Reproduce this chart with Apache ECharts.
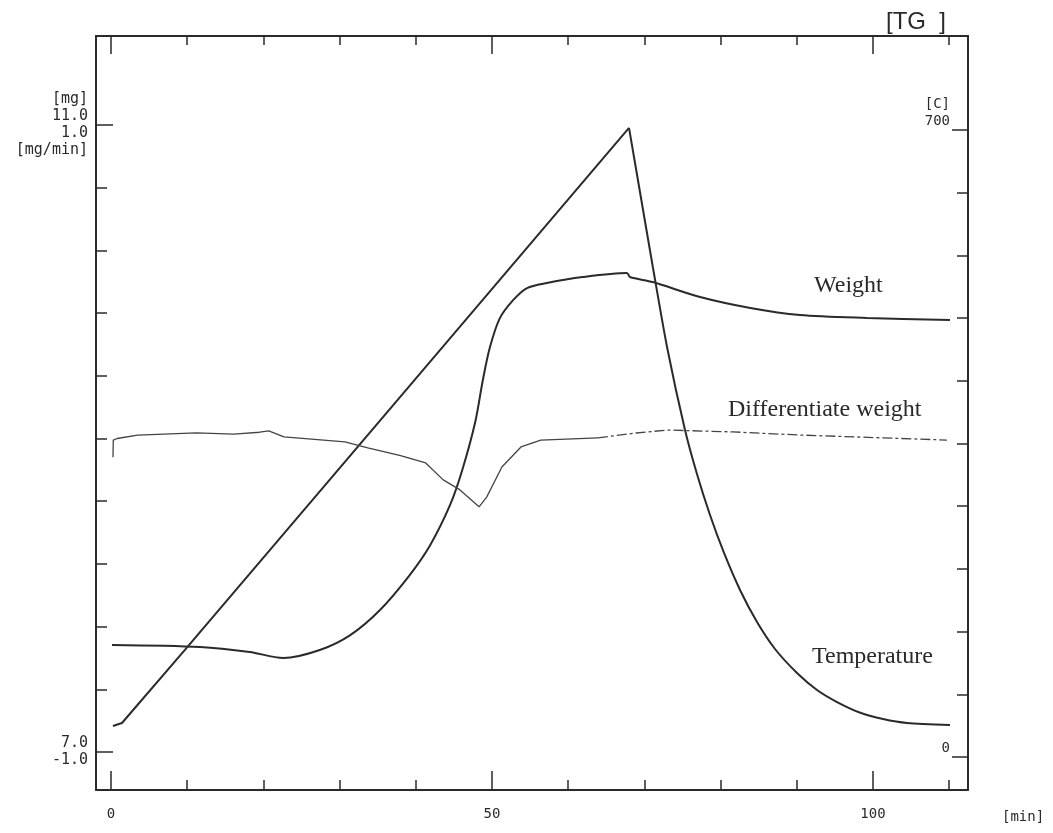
<!DOCTYPE html>
<html>
<head>
<meta charset="utf-8">
<script src="https://cdn.jsdelivr.net/npm/echarts@6/dist/echarts.min.js"></script>
<style>
  html, body { margin: 0; padding: 0; background: #ffffff; }
  #chart { width: 1053px; height: 833px; }
</style>
</head>
<body>
<div id="chart"></div>
<script>
// ---------- data ----------
// time [min]
const xTickValues = [0, 10, 20, 30, 40, 50, 60, 70, 80, 90, 100, 110];
const xMajorTicks = [0, 50, 100];
const xTickLabels = [0, 50, 100];
// temperature axis ticks [C]
const tempTickValues = [0, 70, 140, 210, 280, 350, 420, 490, 560, 630, 700];
const tempEndTicks = [0, 700];
const leftTopLabel = ['[mg]', '11.0', '1.0', '[mg/min]'];
const leftBottomLabel = ['7.0', '-1.0'];
const rightTopLabel = ['[C]', '700'];
const rightBottomLabel = ['0'];

// Temperature [C] vs time [min]
const temperatureHeating = [
  [0.26, 29.0], [1.44, 32.4], [9.7, 114], [37.9, 396], [67.98, 696.7]
];
const temperatureCooling = [
  [67.98, 696.7], [69.42, 625.2], [71.13, 540.4], [72.97, 452.2], [75.33, 359.5],
  [76.90, 310.4], [78.61, 264.6], [80.45, 222.2], [82.55, 180.9], [84.78, 145.1],
  [87.14, 115.0], [90.03, 88.2], [92.65, 69.2], [95.28, 55.8], [98.43, 43.5],
  [101.31, 36.8], [104.46, 32.4], [110.1, 30.1]
];
// Weight [mg] vs time [min]
const weight = [
  [0.13, 7.683], [11.7, 7.670], [18.2, 7.638], [22.6, 7.600], [27.4, 7.651],
  [31.4, 7.746], [35.3, 7.906], [39.2, 8.129], [41.9, 8.321], [44.5, 8.576],
  [46.1, 8.799], [47.8, 9.105], [48.8, 9.373], [49.7, 9.577], [51.0, 9.765],
  [52.8, 9.884], [54.6, 9.960], [57.2, 9.992], [61.9, 10.030], [67.7, 10.056],
  [68.1, 10.030], [71.1, 9.998], [77.3, 9.903], [83.9, 9.833], [90.4, 9.788],
  [99.2, 9.769], [110.1, 9.756]
];
// Differentiate weight [mg/min] vs time [min]
const dWeightSolid = [
  [0.26, -0.06], [0.3, -0.005], [0.8, 0.0], [3.5, 0.011], [11.2, 0.018],
  [16.1, 0.014], [19.5, 0.020], [20.7, 0.024], [22.7, 0.005], [30.7, -0.011],
  [33.7, -0.030], [38.0, -0.055], [41.3, -0.078], [43.6, -0.132], [45.8, -0.164],
  [48.3, -0.218], [49.3, -0.187], [51.3, -0.091], [53.8, -0.027], [56.4, -0.005],
  [63.9, 0.002]
];
const dWeightDashed = [
  [63.9, 0.002], [68.9, 0.0175], [73.0, 0.027], [81.6, 0.021], [90.4, 0.011],
  [109.7, -0.005]
];

// ---------- layout ----------
const INK = '#2a2a2a';
const MONO = '"DejaVu Sans Mono", "Liberation Mono", monospace';
const SERIF = '"Liberation Serif", "DejaVu Serif", serif';
const frame = { left: 96, right: 968, top: 36, bottom: 790 };
const x0px = 111, x100px = 873;               // pixel of t=0 and t=100
const pxPerMin = (x100px - x0px) / 100;
const xMin = (frame.left - x0px) / pxPerMin;
const xMax = (frame.right - x0px) / pxPerMin;
const y700px = 125, y0px = 752;               // pixel of 700 C and 0 C
const pxPerDeg = (y0px - y700px) / 700;
const tMin = -(frame.bottom - y0px) / pxPerDeg;
const tMax = 700 + (y700px - frame.top) / pxPerDeg;
const wMin = 7 + tMin * 4 / 700, wMax = 7 + tMax * 4 / 700;
const dMin = -1 + tMin * 2 / 700, dMax = -1 + tMax * 2 / 700;
const rightShift = 5;  // scanned sheet is slightly tilted

const gridMain = { left: frame.left, right: 1053 - frame.right, top: frame.top, bottom: 833 - frame.bottom };
const gridRight = { left: frame.left, right: 1053 - frame.right, top: frame.top + rightShift, bottom: 833 - frame.bottom - rightShift };

function tickStyle(w) { return { color: INK, width: w }; }

const chart = echarts.init(document.getElementById('chart'), null, { renderer: 'canvas' });
chart.setOption({
  animation: false,
  backgroundColor: '#ffffff',
  grid: [gridMain, gridRight],
  xAxis: [
    { gridIndex: 0, type: 'value', min: xMin, max: xMax, position: 'bottom',
      axisLine: { show: true, onZero: false, lineStyle: tickStyle(2) },
      axisTick: { show: true, inside: true, length: 10, customValues: xTickValues, lineStyle: tickStyle(1.5) },
      axisLabel: { show: true, customValues: xTickLabels, margin: 17, fontFamily: MONO, fontSize: 14, color: INK,
        formatter: v => String(Math.round(v)) },
      splitLine: { show: false } },
    { gridIndex: 0, type: 'value', min: xMin, max: xMax, position: 'bottom',
      axisLine: { show: false, onZero: false },
      axisTick: { show: true, inside: true, length: 19, customValues: xMajorTicks, lineStyle: tickStyle(1.5) },
      axisLabel: { show: false }, splitLine: { show: false } },
    { gridIndex: 0, type: 'value', min: xMin, max: xMax, position: 'top',
      axisLine: { show: true, onZero: false, lineStyle: tickStyle(2) },
      axisTick: { show: true, inside: true, length: 9, customValues: xTickValues, lineStyle: tickStyle(1.5) },
      axisLabel: { show: false }, splitLine: { show: false } },
    { gridIndex: 0, type: 'value', min: xMin, max: xMax, position: 'top',
      axisLine: { show: false, onZero: false },
      axisTick: { show: true, inside: true, length: 18, customValues: xMajorTicks, lineStyle: tickStyle(1.5) },
      axisLabel: { show: false }, splitLine: { show: false } },
    { gridIndex: 1, type: 'value', min: xMin, max: xMax, show: false }
  ],
  yAxis: [
    // 0: temperature (left, frame line)
    { gridIndex: 0, type: 'value', min: tMin, max: tMax, position: 'left',
      axisLine: { show: true, onZero: false, lineStyle: tickStyle(2) },
      axisTick: { show: true, inside: true, length: 11, customValues: tempTickValues, lineStyle: tickStyle(1.5) },
      axisLabel: { show: true, customValues: tempEndTicks, margin: 8, fontFamily: MONO, fontSize: 15,
        lineHeight: 17, color: INK,
        formatter: v => (v > 350 ? leftTopLabel : leftBottomLabel).join('\n') },
      splitLine: { show: false } },
    // 1: long end ticks on the left
    { gridIndex: 0, type: 'value', min: tMin, max: tMax, position: 'left',
      axisLine: { show: false, onZero: false },
      axisTick: { show: true, inside: true, length: 17, customValues: tempEndTicks, lineStyle: tickStyle(1.5) },
      axisLabel: { show: false }, splitLine: { show: false } },
    // 2: right frame line
    { gridIndex: 0, type: 'value', min: tMin, max: tMax, position: 'right',
      axisLine: { show: true, onZero: false, lineStyle: tickStyle(2) },
      axisTick: { show: false }, axisLabel: { show: false }, splitLine: { show: false } },
    // 3: weight [mg]
    { gridIndex: 0, type: 'value', min: wMin, max: wMax, show: false },
    // 4: differentiate weight [mg/min]
    { gridIndex: 0, type: 'value', min: dMin, max: dMax, show: false },
    // 5: right temperature ticks and labels
    { gridIndex: 1, type: 'value', min: tMin, max: tMax, position: 'right',
      axisLine: { show: false, onZero: false },
      axisTick: { show: true, inside: true, length: 11, customValues: tempTickValues, lineStyle: tickStyle(1.5) },
      axisLabel: { show: true, inside: true, customValues: tempEndTicks, margin: 18, fontFamily: MONO, fontSize: 14,
        lineHeight: 17, color: INK, verticalAlign: 'bottom',
        formatter: v => (v > 350 ? rightTopLabel : rightBottomLabel).join('\n') },
      splitLine: { show: false } },
    // 6: long end ticks on the right
    { gridIndex: 1, type: 'value', min: tMin, max: tMax, position: 'right',
      axisLine: { show: false, onZero: false },
      axisTick: { show: true, inside: true, length: 16, customValues: tempEndTicks, lineStyle: tickStyle(1.5) },
      axisLabel: { show: false }, splitLine: { show: false } }
  ],
  series: [
    { name: 'Temperature', type: 'line', xAxisIndex: 0, yAxisIndex: 0, data: temperatureHeating,
      showSymbol: false, silent: true, lineStyle: { color: INK, width: 2 } },
    { name: 'Temperature', type: 'line', xAxisIndex: 0, yAxisIndex: 0, data: temperatureCooling,
      showSymbol: false, silent: true, smooth: 0.25, lineStyle: { color: INK, width: 2 } },
    { name: 'Weight', type: 'line', xAxisIndex: 0, yAxisIndex: 3, data: weight,
      showSymbol: false, silent: true, smooth: 0.3, lineStyle: { color: INK, width: 2 } },
    { name: 'Differentiate weight', type: 'line', xAxisIndex: 0, yAxisIndex: 4, data: dWeightSolid,
      showSymbol: false, silent: true, lineStyle: { color: '#444', width: 1.3 } },
    { name: 'Differentiate weight', type: 'line', xAxisIndex: 0, yAxisIndex: 4, data: dWeightDashed,
      showSymbol: false, silent: true, lineStyle: { color: '#444', width: 1.3, type: [10, 3, 3, 3] } }
  ],
  graphic: [
    { type: 'text', left: 886, top: 10, style: { text: '[TG  ]', font: '24px "Liberation Sans", "DejaVu Sans", sans-serif', fill: INK } },
    { type: 'text', left: 1002, top: 810, style: { text: '[min]', font: '14px ' + MONO, fill: INK } },
    { type: 'text', left: 814, top: 274, style: { text: 'Weight', font: '24px ' + SERIF, fill: INK } },
    { type: 'text', left: 728, top: 398, style: { text: 'Differentiate weight', font: '24px ' + SERIF, fill: INK } },
    { type: 'text', left: 812, top: 645, style: { text: 'Temperature', font: '24px ' + SERIF, fill: INK } }
  ]
});
</script>
</body>
</html>
